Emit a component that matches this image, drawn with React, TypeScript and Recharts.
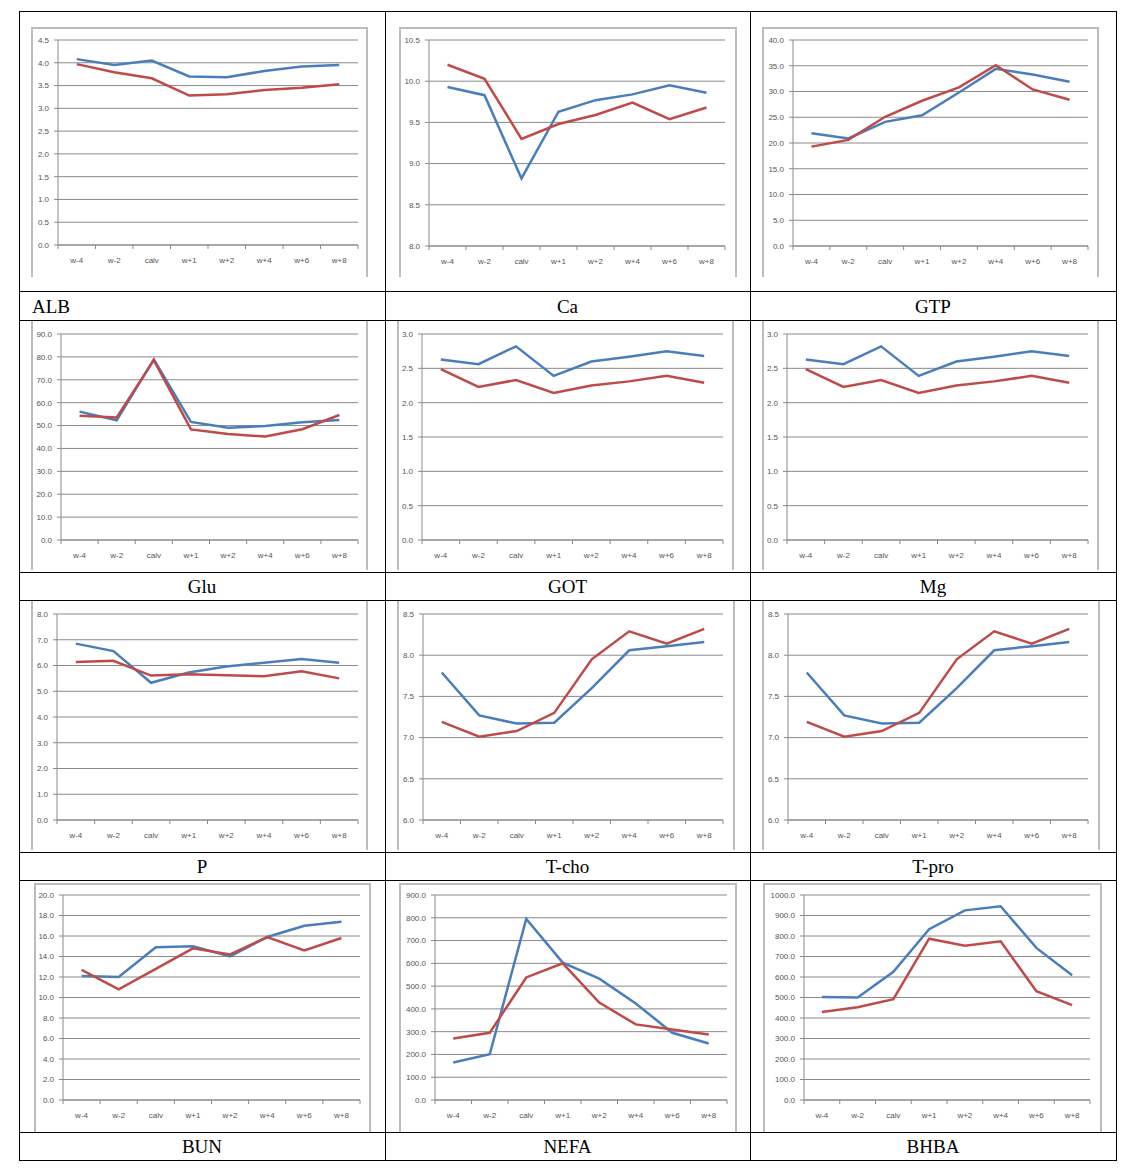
import React from "react";
import { LineChart, Line, XAxis, YAxis, CartesianGrid } from "recharts";

const categories = ["w-4", "w-2", "calv", "w+1", "w+2", "w+4", "w+6", "w+8"];

const albBlue = [4.08, 3.95, 4.05, 3.7, 3.68, 3.82, 3.92, 3.95];
const albRed = [3.97, 3.79, 3.66, 3.28, 3.31, 3.4, 3.45, 3.53];
const albTicks = [0, 0.5, 1, 1.5, 2, 2.5, 3, 3.5, 4, 4.5];

const caBlue = [9.93, 9.83, 8.82, 9.63, 9.77, 9.84, 9.95, 9.86];
const caRed = [10.2, 10.03, 9.3, 9.48, 9.59, 9.74, 9.54, 9.68];
const caTicks = [8, 8.5, 9, 9.5, 10, 10.5];

const gtpBlue = [21.9, 20.9, 24.1, 25.4, 29.8, 34.4, 33.3, 31.9];
const gtpRed = [19.3, 20.6, 25.1, 28.2, 30.8, 35.1, 30.4, 28.4];
const gtpTicks = [0, 5, 10, 15, 20, 25, 30, 35, 40];

const gluBlue = [56.1, 52.3, 78.9, 51.6, 49.0, 49.8, 51.4, 52.4];
const gluRed = [54.3, 53.5, 78.6, 48.3, 46.3, 45.2, 48.4, 54.6];
const gluTicks = [0, 10, 20, 30, 40, 50, 60, 70, 80, 90];

const gotBlue = [2.63, 2.56, 2.82, 2.39, 2.6, 2.67, 2.75, 2.68];
const gotRed = [2.49, 2.23, 2.33, 2.14, 2.25, 2.31, 2.39, 2.29];
const gotTicks = [0, 0.5, 1, 1.5, 2, 2.5, 3];

const mgBlue = [2.63, 2.56, 2.82, 2.39, 2.6, 2.67, 2.75, 2.68];
const mgRed = [2.49, 2.23, 2.33, 2.14, 2.25, 2.31, 2.39, 2.29];
const mgTicks = [0, 0.5, 1, 1.5, 2, 2.5, 3];

const pBlue = [6.85, 6.56, 5.33, 5.73, 5.96, 6.11, 6.25, 6.11];
const pRed = [6.14, 6.18, 5.61, 5.66, 5.62, 5.58, 5.78, 5.5];
const pTicks = [0, 1, 2, 3, 4, 5, 6, 7, 8];

const tchoBlue = [7.79, 7.27, 7.17, 7.18, 7.6, 8.06, 8.11, 8.16];
const tchoRed = [7.19, 7.01, 7.08, 7.3, 7.95, 8.29, 8.14, 8.32];
const tchoTicks = [6, 6.5, 7, 7.5, 8, 8.5];

const tproBlue = [7.79, 7.27, 7.17, 7.18, 7.6, 8.06, 8.11, 8.16];
const tproRed = [7.19, 7.01, 7.08, 7.3, 7.95, 8.29, 8.14, 8.32];
const tproTicks = [6, 6.5, 7, 7.5, 8, 8.5];

const bunBlue = [12.1, 12.0, 14.9, 15.0, 14.0, 15.9, 17.0, 17.4];
const bunRed = [12.7, 10.8, 12.8, 14.8, 14.2, 15.9, 14.6, 15.8];
const bunTicks = [0, 2, 4, 6, 8, 10, 12, 14, 16, 18, 20];

const nefaBlue = [165, 201, 795, 603, 533, 424, 295, 248];
const nefaRed = [270, 295, 538, 600, 428, 332, 310, 288];
const nefaTicks = [0, 100, 200, 300, 400, 500, 600, 700, 800, 900];

const bhbaBlue = [503, 500, 625, 833, 925, 945, 742, 609];
const bhbaRed = [429, 452, 492, 787, 753, 774, 531, 463];
const bhbaTicks = [0, 100, 200, 300, 400, 500, 600, 700, 800, 900, 1000];

const BLUE = "#4a7ebb";
const RED = "#be4b48";
const GRID = "#8a8a8a";
const TICK_FONT = "Liberation Sans, Arial, sans-serif";

const colX = [19, 385, 750];
const colW = [366, 365, 366];
const rowY = [11, 320, 600, 880];
const rowH = [280, 252, 252, 252];
const labelH = [29, 28, 28, 28];
const hLines = [11, 291, 320, 572, 600, 852, 880, 1132, 1160];
const vLines = [19, 385, 750, 1116];

type Panel = {
  title: string;
  blue: number[];
  red: number[];
  ticks: number[];
  row: number;
  col: number;
  // plot area inside the cell: left, right, top, bottom
  plot: [number, number, number, number];
  // grey chart frame inside the cell: left, right, top, bottom
  frame: [number, number, number, number];
  left?: boolean;
};

const panels: Panel[] = [
  { title: "ALB", blue: albBlue, red: albRed, ticks: albTicks, row: 0, col: 0, plot: [39, 339, 29, 234], frame: [12, 349, 16, 264], left: true },
  { title: "Ca", blue: caBlue, red: caRed, ticks: caTicks, row: 0, col: 1, plot: [44, 340, 29, 235], frame: [14, 352, 16, 264] },
  { title: "GTP", blue: gtpBlue, red: gtpRed, ticks: gtpTicks, row: 0, col: 2, plot: [43, 338, 29, 235], frame: [12, 349, 16, 264] },
  { title: "Glu", blue: gluBlue, red: gluRed, ticks: gluTicks, row: 1, col: 0, plot: [42, 339, 14, 220], frame: [12, 349, -4, 248] },
  { title: "GOT", blue: gotBlue, red: gotRed, ticks: gotTicks, row: 1, col: 1, plot: [37, 338, 14, 220], frame: [12, 349, -4, 248] },
  { title: "Mg", blue: mgBlue, red: mgRed, ticks: mgTicks, row: 1, col: 2, plot: [37, 338, 14, 220], frame: [12, 349, -4, 248] },
  { title: "P", blue: pBlue, red: pRed, ticks: pTicks, row: 2, col: 0, plot: [38, 339, 14, 220], frame: [12, 349, -4, 248] },
  { title: "T-cho", blue: tchoBlue, red: tchoRed, ticks: tchoTicks, row: 2, col: 1, plot: [38, 338, 14, 220], frame: [12, 350, -4, 248] },
  { title: "T-pro", blue: tproBlue, red: tproRed, ticks: tproTicks, row: 2, col: 2, plot: [38, 338, 14, 220], frame: [12, 350, -4, 248] },
  { title: "BUN", blue: bunBlue, red: bunRed, ticks: bunTicks, row: 3, col: 0, plot: [44, 341, 15, 220], frame: [15, 352, 3, 250] },
  { title: "NEFA", blue: nefaBlue, red: nefaRed, ticks: nefaTicks, row: 3, col: 1, plot: [50, 342, 15, 220], frame: [14, 352, 3, 250] },
  { title: "BHBA", blue: bhbaBlue, red: bhbaRed, ticks: bhbaTicks, row: 3, col: 2, plot: [54, 340, 15, 220], frame: [13, 352, 3, 250] },
];

const TICK_SIZE = 4;
const TICK_MARGIN = 8;

// category label plus Excel-style tick marks between categories
const XTick = (props: any) => {
  const { x, y, payload, index, half } = props;
  const axisY = y - TICK_SIZE - TICK_MARGIN;
  return (
    <g>
      <line x1={x - half} x2={x - half} y1={axisY} y2={axisY + TICK_SIZE} stroke={GRID} />
      {index === categories.length - 1 && (
        <line x1={x + half} x2={x + half} y1={axisY} y2={axisY + TICK_SIZE} stroke={GRID} />
      )}
      <text x={x} y={y} dy="0.71em" textAnchor="middle" fontSize={8} fontFamily={TICK_FONT} fill="#555">
        {payload.value}
      </text>
    </g>
  );
};

const MiniChart = ({ p }: { p: Panel }) => {
  const w = colW[p.col];
  const h = rowH[p.row];
  const [pl, pr, pt, pb] = p.plot;
  const [fl, fr, ft, fb] = p.frame;
  const half = (pr - pl) / 16;
  const data = categories.map((c, i) => ({ cat: c, blue: p.blue[i], red: p.red[i] }));
  const lo = p.ticks[0];
  const hi = p.ticks[p.ticks.length - 1];
  return (
    <div
      style={{
        position: "absolute",
        left: colX[p.col],
        top: rowY[p.row],
        width: w,
        height: h,
        overflow: "hidden",
      }}
    >
      <div
        style={{
          position: "absolute",
          left: fl,
          top: ft,
          width: fr - fl - 4,
          height: fb - ft,
          borderLeft: "2px solid #bcbcbc",
          borderRight: "2px solid #bcbcbc",
          borderTop: "2px solid #bcbcbc",
          background: "#fff",
        }}
      />
      <div style={{ position: "absolute", left: 0, top: 0 }}>
        <LineChart width={w} height={h} data={data} margin={{ top: pt, right: w - pr, left: 0, bottom: 0 }}>
          <CartesianGrid vertical={false} stroke={GRID} strokeWidth={1} />
          <XAxis
            dataKey="cat"
            height={h - pb}
            padding={{ left: half, right: half }}
            axisLine={{ stroke: GRID }}
            tickLine={false}
            tickSize={TICK_SIZE}
            tickMargin={TICK_MARGIN}
            interval={0}
            tick={(tp: any) => <XTick {...tp} half={half} />}
          />
          <YAxis
            width={pl}
            domain={[lo, hi]}
            ticks={p.ticks}
            interval={0}
            axisLine={{ stroke: GRID }}
            tickLine={{ stroke: GRID }}
            tickSize={TICK_SIZE}
            tickMargin={5}
            tickFormatter={(v: number) => v.toFixed(1)}
            tick={{ fontSize: 8, fill: "#555", fontFamily: TICK_FONT }}
          />
          <Line type="linear" dataKey="blue" stroke={BLUE} strokeWidth={2.5} dot={false} isAnimationActive={false} />
          <Line type="linear" dataKey="red" stroke={RED} strokeWidth={2.5} dot={false} isAnimationActive={false} />
        </LineChart>
      </div>
    </div>
  );
};

const Label = ({ p }: { p: Panel }) => {
  const top = rowY[p.row] + rowH[p.row];
  return (
    <div
      style={{
        position: "absolute",
        left: colX[p.col],
        top: top,
        width: colW[p.col],
        height: labelH[p.row],
        lineHeight: `${labelH[p.row] + 2}px`,
        textAlign: p.left ? "left" : "center",
        paddingLeft: p.left ? 13 : 0,
        boxSizing: "border-box",
        fontFamily: "Liberation Serif, serif",
        fontSize: 19,
        color: "#000",
      }}
    >
      {p.title}
    </div>
  );
};

export default function App() {
  return (
    <div style={{ position: "absolute", left: 0, top: 0, width: 1123, height: 1170, background: "#fff" }}>
      {panels.map((p) => (
        <MiniChart key={p.title} p={p} />
      ))}
      {panels.map((p) => (
        <Label key={p.title + "-l"} p={p} />
      ))}
      {hLines.map((y) => (
        <div
          key={"h" + y}
          style={{ position: "absolute", left: vLines[0], top: y, width: vLines[3] - vLines[0] + 1, height: 1, background: "#000" }}
        />
      ))}
      {vLines.map((x) => (
        <div
          key={"v" + x}
          style={{ position: "absolute", left: x, top: hLines[0], width: 1, height: hLines[hLines.length - 1] - hLines[0] + 1, background: "#000" }}
        />
      ))}
    </div>
  );
}
